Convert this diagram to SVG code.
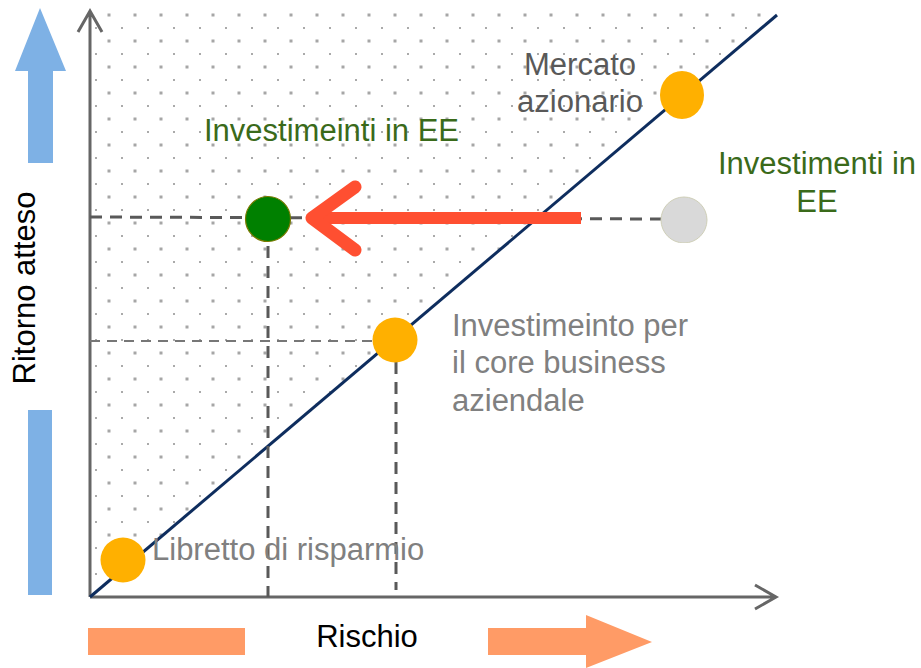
<svg xmlns="http://www.w3.org/2000/svg" width="921" height="668" viewBox="0 0 921 668">
<style>
text{font-family:"Liberation Sans",Arial,sans-serif;font-size:31px}
.green{fill:#3A6A1A}
.dark{fill:#595959}
.light{fill:#808080}
.axis{stroke:#666;stroke-width:3;fill:none}
.dash{stroke:#595959;stroke-width:3;stroke-dasharray:12 8;fill:none}
.dash2{stroke:#777;stroke-width:2;stroke-dasharray:10 7;fill:none}
.orange{fill:#FFB000}
</style>
<defs>
<pattern id="dots" patternUnits="userSpaceOnUse" x="0" y="0" width="26" height="26">
<rect x="3.5" y="13.5" width="3" height="3" fill="#a6a6a6"/>
<rect x="17" y="1" width="2" height="2" fill="#aaaaaa"/>
</pattern>
</defs>
<rect width="921" height="668" fill="#fff"/>
<polygon points="91,10 783,10 90,597" fill="url(#dots)"/>
<g id="side-arrows">
<polygon points="40,8 66,71 53,71 53,163 28,163 28,71 15,71" fill="#7EB1E5"/>
<rect x="28" y="410" width="24" height="185" fill="#7EB1E5"/>
<rect x="88" y="628" width="157" height="27" fill="#FF9B66"/>
<polygon points="488,628 586,628 586,615 652,642 586,668 586,655 488,655" fill="#FF9B66"/>
</g>
<g id="axes">
<path class="axis" d="M90,597 V11 M78,32 L90,11 L102,32"/>
<path class="axis" d="M90,597 H776 M755,585 L776,597 L755,609"/>
<text x="0" y="0" transform="translate(35,288) rotate(-90)" text-anchor="middle" fill="#000">Ritorno atteso</text>
<text x="367" y="647" text-anchor="middle" fill="#000">Rischio</text>
</g>
<g id="connectors">
<line x1="90" y1="597" x2="777" y2="15" stroke="#0E2D5E" stroke-width="3"/>
<line class="dash" x1="90" y1="217" x2="661" y2="219"/>
<line class="dash2" x1="90" y1="341" x2="372" y2="341"/>
<line class="dash" x1="268" y1="246" x2="268" y2="597"/>
<line class="dash" x1="396" y1="362" x2="396" y2="590"/>
<g id="red-arrow" stroke="#FF4F31" fill="none" stroke-linecap="round" stroke-linejoin="round">
<line x1="581" y1="218" x2="316" y2="218" stroke-width="12" stroke-linecap="butt"/>
<polyline points="355,187 312,218 355,250" stroke-width="13"/>
</g>
</g>
<g id="node-libretto">
<circle class="orange" cx="123" cy="560" r="22.5"/>
<text class="light" x="152" y="560">Libretto di risparmio</text>
</g>
<g id="node-core">
<circle class="orange" cx="395" cy="340" r="22.5"/>
<text class="light" x="452" y="336">Investimeinto per</text>
<text class="light" x="452" y="373">il core business</text>
<text class="light" x="452" y="411">aziendale</text>
</g>
<g id="node-mercato">
<ellipse class="orange" cx="682" cy="95" rx="22" ry="24"/>
<text class="dark" x="580" y="75" text-anchor="middle">Mercato</text>
<text class="dark" x="580" y="112" text-anchor="middle">azionario</text>
</g>
<g id="node-grey">
<clipPath id="gclip"><rect x="650" y="190" width="70" height="53"/></clipPath>
<circle cx="684" cy="220" r="23" fill="#D9D9D9" stroke="#CFCFB8" stroke-width="1" clip-path="url(#gclip)"/>
<text class="green" x="817" y="174" text-anchor="middle">Investimenti in</text>
<text class="green" x="817" y="212" text-anchor="middle">EE</text>
</g>
<g id="node-green">
<circle cx="268" cy="219" r="22.5" fill="#008000" stroke="#7A7A00" stroke-width="1.2"/>
<text class="green" x="204" y="141">Investimeinti in EE</text>
</g>
</svg>
